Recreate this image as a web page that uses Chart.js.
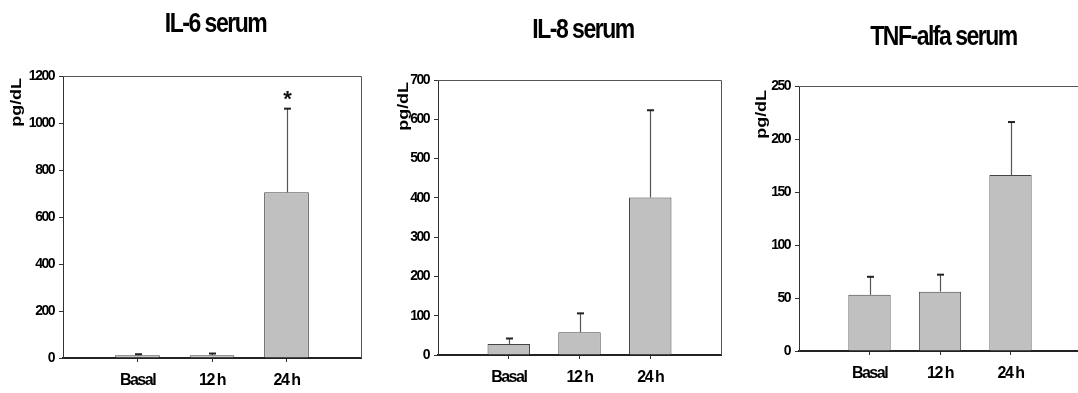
<!DOCTYPE html>
<html>
<head>
<meta charset="utf-8">
<script src="https://cdn.jsdelivr.net/npm/chart.js@4.4.1/dist/chart.umd.min.js"></script>
<style>
  html, body { margin: 0; padding: 0; background: #fff; overflow: hidden; }
  body { width: 1078px; height: 393px; position: relative; }
  canvas { position: absolute; top: 0; }
</style>
</head>
<body>
<canvas id="il6Chart" width="375" height="393" style="left:0px"></canvas>
<canvas id="il8Chart" width="355" height="393" style="left:375px"></canvas>
<canvas id="tnfChart" width="355" height="393" style="left:735px"></canvas>
<script>
// Data
const categories = ['Basal', '12 h', '24 h'];

const il6Values = [12, 12, 705];
const il6Errors = [4, 7, 356];
const il6Marks = ['', '', '*'];
const il6Ticks = [0, 200, 400, 600, 800, 1000, 1200];

const il8Values = [28, 58, 401];
const il8Errors = [14, 48, 222];
const il8Ticks = [0, 100, 200, 300, 400, 500, 600, 700];

const tnfValues = [53, 56, 166];
const tnfErrors = [17, 16, 50];
const tnfTicks = [0, 50, 100, 150, 200, 250];

const titles = ['IL-6 serum', 'IL-8 serum', 'TNF-alfa serum'];
const yLabel = 'pg/dL';

const FONT = "'Liberation Sans', Arial, sans-serif";

// tight lettering like the original figure
const tightTextPlugin = {
    id: 'tightText',
    beforeDraw(chart) {
        chart.ctx.letterSpacing = '-1.5px';
    }
};

// error bars (upward only) + significance marks
const errorBarPlugin = {
    id: 'errorBars',
    afterDatasetsDraw(chart, args, opts) {
        const { ctx } = chart;
        const meta = chart.getDatasetMeta(0);
        const yScale = chart.scales.y;
        ctx.save();
        opts.values.forEach((v, i) => {
            const bar = meta.data[i + 1];
            if (!bar) return;
            const x = Math.round(bar.x) + 0.5;
            const yTop = yScale.getPixelForValue(v + opts.errors[i]);
            ctx.strokeStyle = '#555';
            ctx.lineWidth = 1.2;
            ctx.beginPath();
            ctx.moveTo(x, bar.y);
            ctx.lineTo(x, yTop);
            ctx.stroke();
            ctx.strokeStyle = '#222';
            ctx.lineWidth = 2;
            ctx.beginPath();
            ctx.moveTo(x - 3.5, yTop);
            ctx.lineTo(x + 3.5, yTop);
            ctx.stroke();
            if (opts.marks && opts.marks[i]) {
                ctx.fillStyle = '#111';
                ctx.font = 'bold 22px ' + FONT;
                ctx.letterSpacing = '0px';
                ctx.textAlign = 'center';
                ctx.textBaseline = 'middle';
                ctx.fillText(opts.marks[i], x, yTop - 9);
            }
        });
        ctx.restore();
    }
};

// box round plot area, panel title and rotated unit label
const framePlugin = {
    id: 'frame',
    afterDraw(chart, args, opts) {
        const { ctx, chartArea: a } = chart;
        ctx.save();
        ctx.strokeStyle = '#555';
        ctx.lineWidth = 1;
        ctx.beginPath();
        ctx.moveTo(a.left, Math.round(a.top) + 0.5);
        ctx.lineTo(Math.round(a.right) + 0.5, Math.round(a.top) + 0.5);
        ctx.lineTo(Math.round(a.right) + 0.5, a.bottom);
        ctx.stroke();

        ctx.fillStyle = '#000';
        ctx.font = 'bold 23px ' + FONT;
        ctx.letterSpacing = '-1.5px';
        ctx.textAlign = 'center';
        ctx.textBaseline = 'alphabetic';
        ctx.save();
        ctx.translate((a.left + a.right) / 2 + opts.dx, opts.titleBase);
        ctx.scale(1, 1.2);
        ctx.fillText(opts.title, 0, 0);
        ctx.restore();

        ctx.fillStyle = '#000';
        ctx.font = 'bold 14px ' + FONT;
        ctx.letterSpacing = '0px';
        ctx.textAlign = 'right';
        ctx.save();
        ctx.translate(opts.labelX, a.top + opts.labelDy);
        ctx.rotate(-Math.PI / 2);
        ctx.scale(1.28, 1);
        ctx.fillText(yLabel, 0, 0);
        ctx.restore();
        ctx.restore();
    }
};

function makePanel(id, values, errors, marks, ticks, title, geo) {
    const el = document.getElementById(id);
    new Chart(el, {
        type: 'bar',
        data: {
            labels: ['', ...categories, ''],
            datasets: [{
                data: [null, ...values, null],
                backgroundColor: '#c0c0c0',
                borderColor: '#444',
                borderWidth: 1,
                barPercentage: 0.6,
                categoryPercentage: 1
            }]
        },
        options: {
            responsive: false,
            animation: false,
            events: [],
            layout: { padding: { left: 0, top: geo.top, right: geo.right, bottom: geo.bottom } },
            plugins: {
                legend: { display: false },
                tooltip: { enabled: false },
                errorBars: { values, errors, marks },
                frame: { title, dx: 3.5, titleBase: geo.titleBase, labelX: geo.labelX, labelDy: geo.labelDy }
            },
            scales: {
                x: {
                    type: 'category',
                    offset: false,
                    afterFit: s => { s.height = 35; },
                    grid: {
                        offset: false,
                        drawOnChartArea: false,
                        tickLength: 4,
                        tickColor: c => (c.tick && c.tick.label === '') ? 'rgba(0,0,0,0)' : '#333'
                    },
                    border: { color: '#222', width: 2 },
                    ticks: {
                        autoSkip: false, maxRotation: 0, padding: 9,
                        color: '#000',
                        font: { family: FONT, size: 16, weight: 'bold' }
                    }
                },
                y: {
                    min: 0,
                    max: ticks[ticks.length - 1],
                    afterBuildTicks: s => { s.ticks = ticks.map(v => ({ value: v })); },
                    afterFit: s => { s.width = geo.yw; },
                    grid: { drawOnChartArea: false, tickLength: 4, tickColor: '#333' },
                    border: { color: '#333', width: 1 },
                    ticks: {
                        padding: 5,
                        color: '#000',
                        callback: v => String(v),
                        font: { family: FONT, size: 14, weight: 'bold' }
                    }
                }
            }
        },
        plugins: [tightTextPlugin, errorBarPlugin, framePlugin]
    });
}

makePanel('il6Chart', il6Values, il6Errors, il6Marks, il6Ticks, titles[0],
    { top: 76, right: 14, bottom: 393 - 358 - 35, yw: 63, titleBase: 31.5, labelX: 21, labelDy: 2 });
makePanel('il8Chart', il8Values, il8Errors, null, il8Ticks, titles[1],
    { top: 80, right: 9, bottom: 393 - 355 - 35, yw: 63, titleBase: 38.3, labelX: 32.5, labelDy: 2 });
makePanel('tnfChart', tnfValues, tnfErrors, null, tnfTicks, titles[2],
    { top: 86, right: 6, bottom: 393 - 351 - 35, yw: 64, titleBase: 45, labelX: 30.5, labelDy: 4 });
</script>
</body>
</html>
